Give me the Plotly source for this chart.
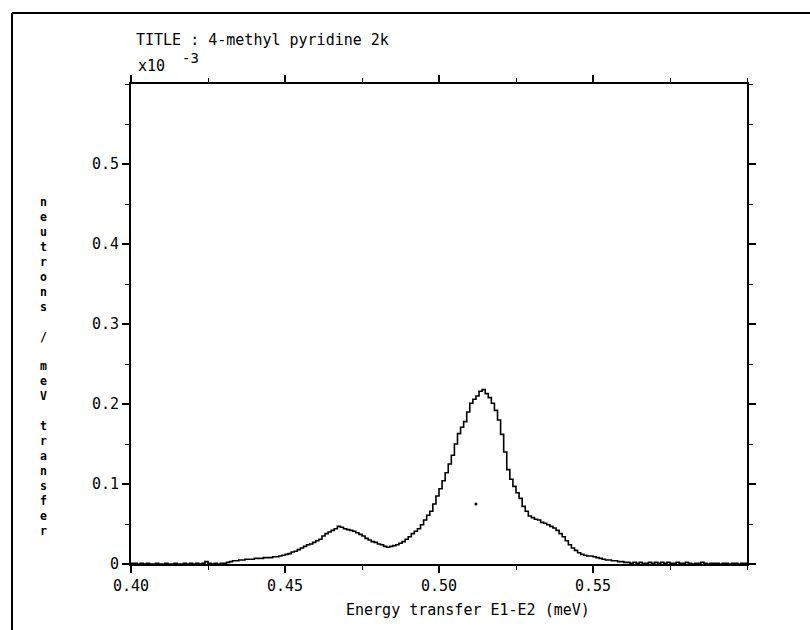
import numpy as np
import plotly.graph_objects as go

# ---- data (x10^-3 neutrons / meV transfer), bins of 0.001 meV starting at 0.400 ----
bin_start = 0.400
bin_width = 0.001
counts = [
    0.001, 0.001, 0.000, 0.001, 0.000, 0.001, 0.000, 0.000, 0.001, 0.000,
    0.000, 0.001, 0.000, 0.000, 0.001, 0.000, 0.000, 0.001, 0.000, 0.001,
    0.000, 0.001, 0.000, 0.001, 0.003, 0.001, 0.000, 0.001, 0.000, 0.001,
    0.001, 0.002, 0.003, 0.004, 0.004, 0.005, 0.005, 0.006, 0.006, 0.006,
    0.007, 0.007, 0.007, 0.008, 0.008, 0.008, 0.009, 0.009, 0.010, 0.011,
    0.012, 0.013, 0.015, 0.016, 0.018, 0.020, 0.022, 0.024, 0.025, 0.027,
    0.029, 0.031, 0.035, 0.038, 0.040, 0.042, 0.044, 0.047, 0.046, 0.044,
    0.043, 0.042, 0.041, 0.039, 0.037, 0.035, 0.032, 0.030, 0.028, 0.027,
    0.025, 0.024, 0.022, 0.021, 0.022, 0.023, 0.024, 0.026, 0.028, 0.031,
    0.034, 0.038, 0.041, 0.044, 0.049, 0.055, 0.061, 0.066, 0.075, 0.085,
    0.094, 0.104, 0.114, 0.125, 0.136, 0.150, 0.163, 0.171, 0.178, 0.190,
    0.201, 0.206, 0.210, 0.216, 0.218, 0.213, 0.208, 0.201, 0.192, 0.180,
    0.162, 0.140, 0.118, 0.106, 0.097, 0.089, 0.082, 0.072, 0.066, 0.060,
    0.058, 0.056, 0.055, 0.052, 0.051, 0.049, 0.047, 0.045, 0.042, 0.038,
    0.034, 0.029, 0.024, 0.020, 0.017, 0.014, 0.012, 0.011, 0.010, 0.010,
    0.009, 0.008, 0.007, 0.006, 0.005, 0.005, 0.004, 0.004, 0.003, 0.003,
    0.002, 0.002, 0.001, 0.002, 0.001, 0.002, 0.001, 0.001, 0.002, 0.001,
    0.002, 0.001, 0.002, 0.001, 0.002, 0.001, 0.001, 0.002, 0.001, 0.001,
    0.002, 0.001, 0.000, 0.001, 0.001, 0.002, 0.001, 0.000, 0.001, 0.001,
    0.001, 0.000, 0.001, 0.001, 0.000, 0.001, 0.001, 0.000, 0.001, 0.001,
]
stray_x = [0.512]
stray_y = [0.075]

x_tickvals = [0.40, 0.45, 0.50, 0.55]
x_ticktext = ["0.40", "0.45", "0.50", "0.55"]
x_minorvals = [0.425, 0.475, 0.525, 0.575, 0.60]
y_tickvals = [0, 0.1, 0.2, 0.3, 0.4, 0.5]
y_ticktext = ["0", "0.1", "0.2", "0.3", "0.4", "0.5"]
y_minorvals = [0.05, 0.15, 0.25, 0.35, 0.45, 0.55, 0.6]

title_text = "TITLE : 4-methyl pyridine 2k"
x_title = "Energy transfer E1-E2 (meV)"
y_title = "neutrons / meV transfer"

# ---- build ----
x_edges = np.round(bin_start + bin_width * np.arange(len(counts) + 1), 4)
y_vals = counts + [counts[-1]]

FONT = "DejaVu Sans Mono"
W, H = 810, 630
L, R, T, B = 131, 63, 84, 66
pw, ph = W - L - R, H - T - B


def px(x):
    return (x - L) / pw


def py(y):
    return (H - B - y) / ph


fig = go.Figure()
fig.add_trace(go.Scatter(x=x_edges, y=y_vals, mode="lines", line_shape="hv",
                         line=dict(color="black", width=1.6), showlegend=False,
                         hoverinfo="skip"))
fig.add_trace(go.Scatter(x=stray_x, y=stray_y, mode="markers",
                         marker=dict(color="black", size=3), showlegend=False,
                         hoverinfo="skip"))

axis_common = dict(showline=True, linecolor="black", linewidth=2, mirror="ticks",
                   ticks="outside", ticklen=7, tickwidth=1.5, tickcolor="black",
                   showgrid=False, zeroline=False,
                   tickfont=dict(family=FONT, size=15, color="black"))

fig.update_xaxes(range=[0.40, 0.60], tickmode="array", tickvals=x_tickvals,
                 ticktext=x_ticktext,
                 minor=dict(tickmode="array", tickvals=x_minorvals, ticks="outside",
                            ticklen=4, tickwidth=1, tickcolor="black", showgrid=False),
                 **axis_common)
fig.update_yaxes(range=[0, 0.6], tickmode="array", tickvals=y_tickvals,
                 ticktext=y_ticktext,
                 minor=dict(tickmode="array", tickvals=y_minorvals, ticks="outside",
                            ticklen=4, tickwidth=1, tickcolor="black", showgrid=False),
                 **axis_common)

ann = []
ann.append(dict(text=title_text, x=px(134), y=py(40), xref="paper", yref="paper",
                xanchor="left", yanchor="middle", showarrow=False,
                font=dict(family=FONT, size=15, color="black")))
ann.append(dict(text="x10", x=px(136), y=py(66), xref="paper", yref="paper",
                xanchor="left", yanchor="middle", showarrow=False,
                font=dict(family=FONT, size=15, color="black")))
ann.append(dict(text="-3", x=px(180), y=py(58), xref="paper", yref="paper",
                xanchor="left", yanchor="middle", showarrow=False,
                font=dict(family=FONT, size=14, color="black")))
ann.append(dict(text=x_title, x=px(468), y=py(610), xref="paper", yref="paper",
                xanchor="center", yanchor="middle", showarrow=False,
                font=dict(family=FONT, size=15, color="black")))
# vertically stacked y-axis label, one upright character per row
ann.append(dict(text="<b>" + "<br>".join(list(y_title)) + "</b>", x=px(43), y=py(366),
                xref="paper", yref="paper", xanchor="center", yanchor="middle",
                showarrow=False, align="center",
                font=dict(family=FONT, size=11.5, color="black")))

shapes = [
    dict(type="line", xref="paper", yref="paper", x0=px(12), x1=px(12),
         y0=py(640), y1=py(13), line=dict(color="black", width=2)),
    dict(type="line", xref="paper", yref="paper", x0=px(12), x1=px(820),
         y0=py(13), y1=py(13), line=dict(color="black", width=2)),
]

fig.update_layout(width=W, height=H, margin=dict(l=L, r=R, t=T, b=B),
                  paper_bgcolor="white", plot_bgcolor="white",
                  annotations=ann, shapes=shapes, showlegend=False)

fig.write_html("out.html")
